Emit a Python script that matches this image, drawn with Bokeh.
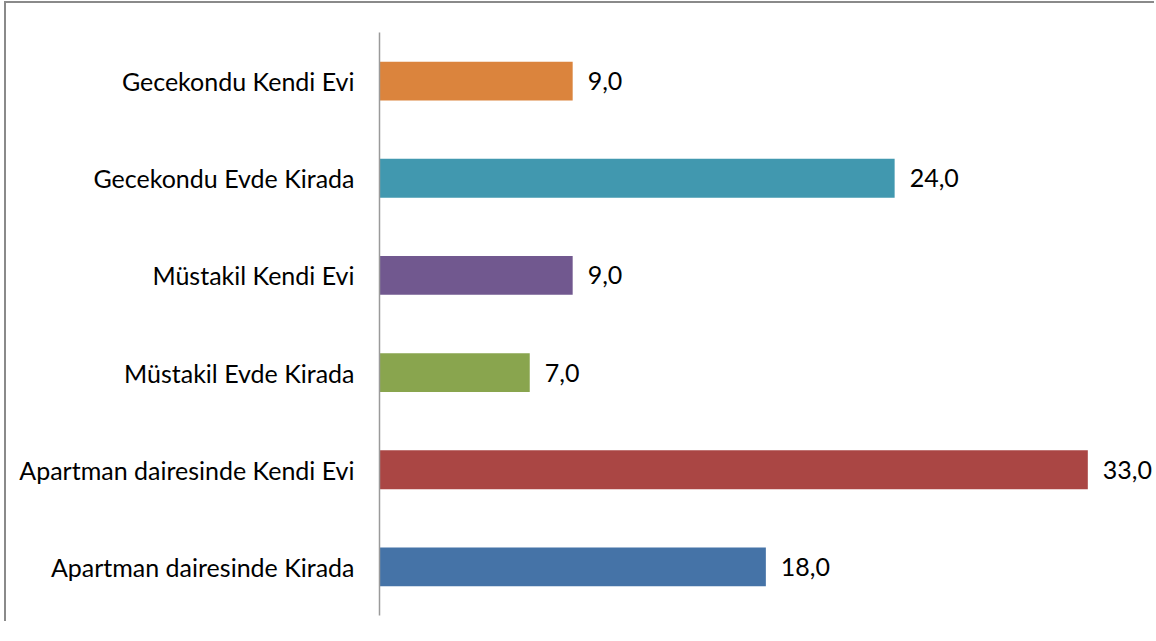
from bokeh.plotting import figure
from bokeh.models import ColumnDataSource, FactorRange, Range1d
from bokeh.core.properties import value
from bokeh.embed import file_html
from bokeh.resources import INLINE

categories = [
    "Apartman dairesinde Kirada",
    "Apartman dairesinde Kendi Evi",
    "Müstakil Evde Kirada",
    "Müstakil Kendi Evi",
    "Gecekondu Evde Kirada",
    "Gecekondu Kendi Evi",
]
values = [18.0, 33.0, 7.0, 9.0, 24.0, 9.0]
labels = ["18,0", "33,0", "7,0", "9,0", "24,0", "9,0"]
colors = ["#4573A7", "#AA4644", "#89A54E", "#71588F", "#4198AF", "#DB843D"]

FONT = "Lato"

src = ColumnDataSource(dict(cat=categories, val=values, lab=labels, col=colors))

p = figure(
    width=1150, height=620,
    y_range=FactorRange(*categories),
    x_range=Range1d(0, 36.2),
    output_backend="svg", toolbar_location=None,
    min_border_left=373, min_border_right=0, min_border_top=29, min_border_bottom=8,
)
p.styles = {"border-top": "2px solid #8a8a8a", "border-left": "2px solid #8a8a8a",
            "margin-left": "4px", "margin-top": "1px"}
p.outline_line_color = None
p.background_fill_color = "white"
p.border_fill_color = "white"

p.hbar(y="cat", right="val", left=0, height=0.4, color="col", line_color=None, source=src)
p.text(x="val", y="cat", text="lab", source=src, x_offset=15,
       text_baseline="middle", text_align="left",
       text_font=value(FONT), text_font_size="25px", text_color="#000000")

p.xaxis.visible = False
p.xgrid.visible = False
p.ygrid.visible = False
yax = p.yaxis[0]
yax.axis_line_color = "#9a9a9a"
yax.axis_line_width = 1.5
yax.major_tick_line_color = None
yax.minor_tick_line_color = None
yax.major_tick_out = 0
yax.major_tick_in = 0
yax.major_label_standoff = 25
yax.major_label_text_font = FONT
yax.major_label_text_font_size = "25px"
yax.major_label_text_color = "#000000"

open("out.html", "w").write(file_html(p, INLINE))
